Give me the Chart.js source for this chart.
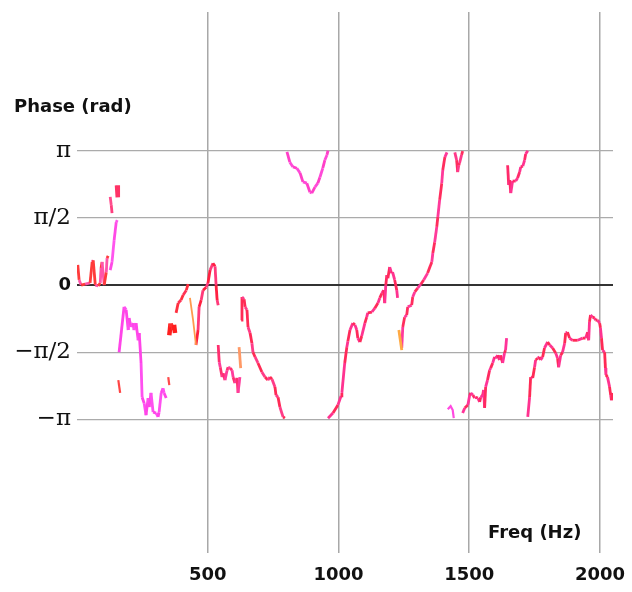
<!DOCTYPE html>
<html>
<head>
<meta charset="utf-8">
<script src="https://cdn.jsdelivr.net/npm/chart.js@4.4.1/dist/chart.umd.min.js"></script>
<style>
  html, body { margin: 0; padding: 0; background: #fff; }
  #wrap { width: 632px; height: 592px; }
</style>
</head>
<body>
<div id="wrap"><canvas id="phase" width="632" height="592"></canvas></div>
<script>
// ticks
const freqTicks = [500, 1000, 1500, 2000];
const phaseTicks = [-Math.PI, -Math.PI / 2, 0, Math.PI / 2, Math.PI];
const phaseLabels = ['\u2212\u03c0', '\u2212\u03c0/2', '0', '\u03c0/2', '\u03c0'];

// phase traces, [Hz, rad]
const segA1 = [[3,0.47],[8,0.12],[16,0],[31,0.02],[50,0.05],[58,0.54],[62,0.58],[70,0],[81,-0.02],[89,0.05],[92,0.40],[96,0.54],[104,0],[112,0.30],[115,0.63],[119,0.68]];
const segA2 = [[127,0.35],[134,0.54],[142,1.05],[150,1.47],[154,1.52]];
const segB = [[127,2.06],[131,1.87],[134,1.68]];
const segC = [[153,2.33],[156,2.05]];
const segE0 = [[158,-2.22],[165,-2.52]];
const segD = [[161,-1.57],[180,-0.51],[188,-0.58],[196,-1.05],[199,-0.77],[207,-0.98],[215,-0.89],[218,-1.05],[226,-0.89],[234,-1.29],[238,-1.12],[245,-1.82],[249,-2.62],[257,-2.76],[264,-3.04],[272,-2.64],[276,-2.85],[283,-2.52],[291,-2.97],[303,-2.99],[310,-3.08],[314,-2.97],[322,-2.52],[329,-2.41],[333,-2.52],[341,-2.64]];
const segE = [[349,-2.15],[353,-2.34]];
const segF = [[353,-1.17],[358,-0.90],[362,-0.98],[367,-1.05],[371,-0.93],[375,-1.12]];
const segG = [[379,-0.65],[387,-0.42],[398,-0.35],[406,-0.23],[418,-0.12],[425,0.02]];
const segH1 = [[432,-0.30],[444,-0.82],[455,-1.40]];
const segH2 = [[455,-1.40],[463,-1.05],[467,-0.51],[475,-0.35],[482,-0.12],[494,-0.05],[501,0.05],[509,0.35],[520,0.51],[528,0.44],[532,0.0],[536,-0.35],[540,-0.47]];
const segI = [[540,-1.40],[544,-1.80],[548,-1.92],[555,-2.15],[559,-2.06],[566,-2.22],[574,-1.99],[578,-1.92],[585,-1.94],[593,-1.99],[597,-2.15],[604,-2.29],[612,-2.17],[616,-2.52],[623,-2.15]];
const segJ = [[620,-1.45],[626,-1.94]];
const segK = [[628,-0.82],[631,-0.28],[639,-0.33],[643,-0.51],[650,-0.58],[654,-0.98],[662,-1.12],[669,-1.36],[673,-1.57],[681,-1.68],[692,-1.82],[707,-2.03],[719,-2.15],[730,-2.22],[738,-2.15],[746,-2.20],[757,-2.38],[761,-2.57],[769,-2.62],[776,-2.85],[788,-3.08],[795,-3.11]];
const segL = [[803,3.11],[814,2.87],[826,2.76],[841,2.73],[853,2.62],[864,2.41],[879,2.38],[891,2.17],[898,2.15],[910,2.29],[921,2.38],[929,2.52],[940,2.73],[948,2.92],[956,3.04],[960,3.14]];
const segM = [[960,-3.11],[979,-2.99],[998,-2.80],[1010,-2.59],[1013,-2.52],[1024,-1.82],[1032,-1.45],[1036,-1.31],[1044,-1.05],[1055,-0.89],[1063,-0.93],[1070,-1.05],[1074,-1.24],[1082,-1.33],[1089,-1.19],[1101,-0.89],[1108,-0.75],[1112,-0.65],[1128,-0.63],[1139,-0.54],[1151,-0.42],[1158,-0.30],[1166,-0.19],[1173,-0.12],[1177,-0.42],[1181,0.0],[1185,0.23],[1189,0.16],[1196,0.42],[1203,0.28],[1207,0.30],[1215,0.12],[1223,-0.12],[1226,-0.30]];
const segN = [[1231,-1.05],[1242,-1.52]];
const segO = [[1242,-1.47],[1246,-0.98],[1253,-0.75],[1261,-0.70],[1265,-0.51],[1280,-0.47],[1284,-0.28],[1292,-0.16],[1303,-0.07],[1315,0.02],[1326,0.12],[1341,0.28],[1357,0.54],[1361,0.75],[1368,1.00],[1376,1.36],[1380,1.59],[1387,1.99],[1395,2.38],[1399,2.69],[1407,2.99],[1415,3.10]];
const segP = [[1445,3.10],[1452,2.92],[1456,2.64],[1460,2.80],[1463,2.85],[1471,3.04],[1475,3.13]];
const segHook = [[1418,-2.90],[1429,-2.83],[1437,-2.92],[1441,-3.11]];
const segQ = [[1647,2.80],[1651,2.34],[1655,2.45],[1659,2.15],[1666,2.43],[1678,2.43],[1685,2.50],[1693,2.64],[1697,2.76],[1705,2.78],[1712,2.92],[1716,3.06],[1724,3.14]];
const segR = [[1475,-2.99],[1483,-2.87],[1495,-2.80],[1502,-2.57],[1506,-2.52],[1514,-2.57],[1521,-2.64],[1525,-2.62],[1533,-2.64],[1540,-2.73],[1544,-2.62],[1552,-2.57],[1555,-2.45],[1559,-2.87],[1563,-2.38],[1570,-2.22],[1578,-1.99],[1582,-1.94],[1590,-1.82],[1597,-1.68],[1601,-1.71],[1609,-1.64],[1616,-1.75],[1620,-1.64],[1628,-1.82],[1635,-1.59],[1639,-1.52],[1643,-1.24]];
const segS = [[1724,-3.08],[1731,-2.62],[1735,-2.15],[1743,-2.17],[1750,-1.92],[1754,-1.75],[1762,-1.71],[1769,-1.68],[1773,-1.75],[1781,-1.68],[1788,-1.47],[1800,-1.33],[1808,-1.40],[1819,-1.47],[1831,-1.59],[1838,-1.71],[1842,-1.92],[1850,-1.64],[1857,-1.57],[1865,-1.36],[1869,-1.12],[1876,-1.10],[1884,-1.24],[1895,-1.29],[1915,-1.29],[1934,-1.24],[1945,-1.24],[1953,-1.10],[1957,-1.29],[1960,-0.86],[1964,-0.70],[1972,-0.75],[1980,-0.77],[1983,-0.82],[1991,-0.82],[1999,-0.89],[2002,-1.00],[2006,-1.24],[2010,-1.52],[2018,-1.57],[2021,-1.94],[2023,-2.10],[2029,-2.15],[2037,-2.38],[2041,-2.57],[2044,-2.69],[2048,-2.52]];

const traces = [segA1, segA2, segB, segC, segE0, segD, segE, segF, segG, segH1, segH2, segI, segJ, segK, segL, segM, segN, segO, segP, segHook, segQ, segR, segS];
// two alternating colours per trace to get the mottled look, and line widths
const traceColors = [
  ['#ff3b3b', '#ff55aa'], ['#ff4ae6', '#ff55ee'], ['#ff4d8d', '#ff3f7f'], ['#ff3366', '#ff3366'],
  ['#ff4545', '#ff5050'], ['#ff45e8', '#ff50f0'], ['#ff4a4a', '#ff4a4a'], ['#ff1f1f', '#ff3030'],
  ['#ff2f3f', '#ff3355'], ['#ff9a4d', '#ff9a4d'], ['#ff2040', '#ff3a7a'], ['#ff2f6f', '#ff3c9c'],
  ['#ff9966', '#ff9966'], ['#ff2a55', '#ff3c88'], ['#ff3fc8', '#ff4ad8'], ['#ff3390', '#ff2a5a'],
  ['#ffaa44', '#ffaa44'], ['#ff3a9a', '#ff2d5d'], ['#ff3a8a', '#ff2d5d'], ['#ff4ae0', '#ff4ae0'],
  ['#ff2a6a', '#ff3390'], ['#ff3399', '#ff2a60'], ['#ff3390', '#ff2a55']
];
const traceWidths = [2.8, 2.8, 2.8, 4.5, 2.2, 2.8, 2.2, 4.5, 2.8, 1.8, 2.8, 2.8, 2.8, 2.8, 2.8, 2.8, 2.8, 2.8, 2.8, 2.2, 2.8, 2.8, 2.8];

const sansBold = { family: 'DejaVu Sans', weight: 'bold', size: 18 };
const isZero = v => Math.abs(v) < 1e-9;
const noScalePad = s => { s.paddingTop = 0; s.paddingBottom = 0; s.paddingLeft = 0; s.paddingRight = 0; };

const axisTitles = {
  id: 'axisTitles',
  afterDraw(chart) {
    const c = chart.ctx;
    c.save();
    c.font = 'bold 18px "DejaVu Sans"';
    c.fillStyle = '#111';
    c.textBaseline = 'middle';
    c.fillText('Phase (rad)', 14, 107);
    c.fillText('Freq (Hz)', 488, 533);
    c.restore();
  }
};

new Chart(document.getElementById('phase'), {
  type: 'line',
  data: {
    datasets: traces.map((pts, i) => ({
      data: pts.map(p => ({ x: p[0], y: p[1] })),
      borderColor: traceColors[i][0],
      borderWidth: traceWidths[i],
      pointRadius: 0,
      tension: 0,
      fill: false,
      segment: { borderColor: c => traceColors[i][c.p0DataIndex % 2] }
    }))
  },
  options: {
    responsive: false,
    animation: false,
    devicePixelRatio: 1,
    layout: { padding: { top: 12, right: 19, left: 0, bottom: 0 } },
    plugins: { legend: { display: false }, tooltip: { enabled: false } },
    scales: {
      x: {
        type: 'linear',
        min: 0,
        max: 2050,
        afterBuildTicks: s => { s.ticks = freqTicks.map(v => ({ value: v })); },
        afterFit: s => { s.height = 39; noScalePad(s); },
        border: { display: false },
        grid: { color: '#a8a8a8', lineWidth: 1.5, drawTicks: false },
        ticks: { padding: 12, color: '#111', font: sansBold, maxRotation: 0, autoSkip: false, callback: v => String(v) }
      },
      y: {
        type: 'linear',
        min: -6.26,
        max: 6.38,
        afterBuildTicks: s => { s.ticks = phaseTicks.map(v => ({ value: v })); },
        afterFit: s => { s.width = 77; noScalePad(s); },
        border: { display: false },
        grid: {
          drawTicks: false,
          color: c => (c.tick && isZero(c.tick.value)) ? '#333' : '#ababab',
          lineWidth: c => (c.tick && isZero(c.tick.value)) ? 2 : 1.2
        },
        ticks: {
          padding: 6,
          color: '#111',
          autoSkip: false,
          callback: (v, i) => phaseLabels[i],
          font: c => (c.tick && isZero(c.tick.value)) ? sansBold : { family: 'DejaVu Serif', size: 23 }
        }
      }
    }
  },
  plugins: [axisTitles]
});
</script>
</body>
</html>
